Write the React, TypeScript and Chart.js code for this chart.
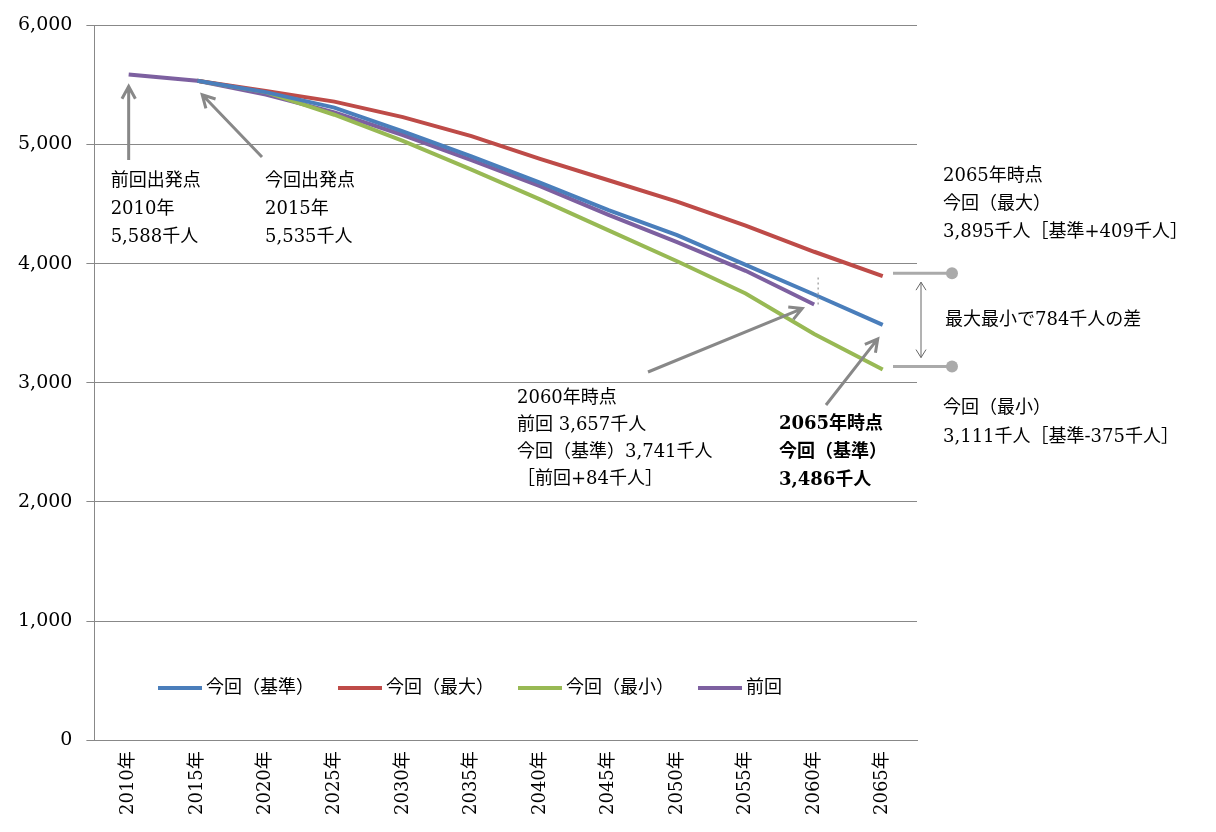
import { useEffect, useRef } from "react"
import { Chart, registerables } from "chart.js"

Chart.register(...registerables)

const years = ["2010年", "2015年", "2020年", "2025年", "2030年", "2035年", "2040年", "2045年", "2050年", "2055年", "2060年", "2065年"]
const baseSeries = [null, 5535, 5440, 5310, 5110, 4900, 4680, 4450, 4240, 3990, 3741, 3486]
const maxSeries = [null, 5535, 5450, 5360, 5230, 5070, 4880, 4700, 4520, 4320, 4100, 3895]
const minSeries = [null, 5535, 5440, 5250, 5030, 4790, 4540, 4280, 4020, 3750, 3410, 3111]
const prevSeries = [5588, 5535, 5420, 5270, 5080, 4870, 4650, 4410, 4180, 3940, 3657, null]

const FONT = "'DejaVu Serif', 'Noto Sans CJK JP', serif"
const GRAY = "#888888"

function arrow(ctx: CanvasRenderingContext2D, x1: number, y1: number, x2: number, y2: number) {
  ctx.save()
  ctx.strokeStyle = GRAY
  ctx.lineWidth = 3
  ctx.beginPath()
  ctx.moveTo(x1, y1)
  ctx.lineTo(x2, y2)
  const a = Math.atan2(y2 - y1, x2 - x1)
  const h = 14
  ctx.moveTo(x2 - h * Math.cos(a - 0.5), y2 - h * Math.sin(a - 0.5))
  ctx.lineTo(x2, y2)
  ctx.lineTo(x2 - h * Math.cos(a + 0.5), y2 - h * Math.sin(a + 0.5))
  ctx.stroke()
  ctx.restore()
}

function lines(ctx: CanvasRenderingContext2D, txt: string[], x: number, y: number, lh: number, bold = false) {
  ctx.save()
  ctx.fillStyle = "#000"
  ctx.font = `${bold ? "bold " : ""}18px ${FONT}`
  ctx.textBaseline = "middle"
  txt.forEach((t, i) => ctx.fillText(t, x, y + i * lh))
  ctx.restore()
}

const notes = {
  id: "notes",
  afterDraw(chart: Chart) {
    const ctx = chart.ctx
    const xs = chart.scales.x
    const ys = chart.scales.y
    const px = (i: number) => xs.getPixelForValue(i)
    const py = (v: number) => ys.getPixelForValue(v)

    // starting points
    arrow(ctx, px(0), 160, px(0), py(5588) + 12)
    lines(ctx, ["前回出発点", "2010年", "5,588千人"], px(0) - 18, 181, 28)
    arrow(ctx, 262, 157, px(1) + 5, py(5535) + 14)
    lines(ctx, ["今回出発点", "2015年", "5,535千人"], 265, 181, 28)

    // 2060
    ctx.save()
    ctx.strokeStyle = "#aaa"
    ctx.setLineDash([2, 3])
    ctx.lineWidth = 1.5
    ctx.beginPath()
    ctx.moveTo(px(10) + 4, py(3657))
    ctx.lineTo(px(10) + 4, py(3900))
    ctx.stroke()
    ctx.restore()
    arrow(ctx, 648, 372, px(10) - 12, py(3657) + 4)
    lines(ctx, ["2060年時点", "前回 3,657千人", "今回（基準）3,741千人", "［前回+84千人］"], 517, 398, 27)

    // 2065 base
    arrow(ctx, 826, 405, px(11) - 5, py(3486) + 14)
    lines(ctx, ["2065年時点", "今回（基準）", "3,486千人"], 779, 424, 28, true)

    // right brackets
    ctx.save()
    ctx.strokeStyle = "#aaa"
    ctx.fillStyle = "#aaa"
    ctx.lineWidth = 3
    for (const v of [3895, 3111]) {
      const y = v === 3895 ? py(v) - 3 : py(v) - 3
      ctx.beginPath()
      ctx.moveTo(893, y)
      ctx.lineTo(950, y)
      ctx.stroke()
      ctx.beginPath()
      ctx.arc(952, y, 6, 0, Math.PI * 2)
      ctx.fill()
    }
    ctx.strokeStyle = "#666"
    ctx.lineWidth = 1
    const yt = py(3895) + 6
    const yb = py(3111) - 12
    ctx.beginPath()
    ctx.moveTo(921, yt)
    ctx.lineTo(921, yb)
    ctx.moveTo(916, yt + 8)
    ctx.lineTo(921, yt)
    ctx.lineTo(926, yt + 8)
    ctx.moveTo(916, yb - 8)
    ctx.lineTo(921, yb)
    ctx.lineTo(926, yb - 8)
    ctx.stroke()
    ctx.restore()
    lines(ctx, ["2065年時点", "今回（最大）", "3,895千人［基準+409千人］"], 943, 176, 28)
    lines(ctx, ["最大最小で784千人の差"], 945, 320, 28)
    lines(ctx, ["今回（最小）", "3,111千人［基準-375千人］"], 943, 408, 29)

    // legend
    const items = chart.data.datasets.map((d) => ({ label: d.label as string, color: d.borderColor as string }))
    ctx.save()
    ctx.font = `18px ${FONT}`
    ctx.textBaseline = "middle"
    let x = 158
    const y = 688
    for (const it of items) {
      ctx.strokeStyle = it.color
      ctx.lineWidth = 4
      ctx.beginPath()
      ctx.moveTo(x, y)
      ctx.lineTo(x + 44, y)
      ctx.stroke()
      ctx.fillStyle = "#000"
      ctx.fillText(it.label, x + 48, y)
      x += 48 + ctx.measureText(it.label).width + 24
    }
    ctx.restore()
  },
}

export default function App() {
  const canvasRef = useRef<HTMLCanvasElement | null>(null)
  const chartRef = useRef<Chart | null>(null)

  useEffect(() => {
    document.body.style.margin = "0"
    if (!canvasRef.current) return
    chartRef.current?.destroy()
    const ds = (label: string, data: (number | null)[], color: string) => ({
      label,
      data,
      borderColor: color,
      backgroundColor: color,
      borderWidth: 4,
      pointRadius: 0,
      tension: 0,
      spanGaps: false,
    })
    chartRef.current = new Chart(canvasRef.current, {
      type: "line",
      data: {
        labels: years,
        datasets: [
          ds("今回（基準）", baseSeries, "#4a7ebb"),
          ds("今回（最大）", maxSeries, "#be4b48"),
          ds("今回（最小）", minSeries, "#98b954"),
          ds("前回", prevSeries, "#7d60a0"),
        ],
      },
      options: {
        animation: false,
        responsive: false,
        layout: { padding: { top: 12, right: 299, left: 4, bottom: 14 } },
        plugins: { legend: { display: false }, tooltip: { enabled: false } },
        scales: {
          x: {
            offset: true,
            grid: { display: false, drawTicks: true, offset: true },
            border: { color: "#888" },
            ticks: { color: "#000", font: { size: 18, family: FONT }, maxRotation: 90, minRotation: 90 },
          },
          y: {
            min: 0,
            max: 6000,
            grid: { color: "#888", tickLength: 8 },
            border: { color: "#888" },
            ticks: { stepSize: 1000, color: "#000", font: { size: 19, family: FONT }, padding: 14 },
          },
        },
      },
      plugins: [notes],
    })
    return () => {
      chartRef.current?.destroy()
      chartRef.current = null
    }
  }, [])

  return <canvas ref={canvasRef} width={1216} height={832} style={{ display: "block" }} />
}
